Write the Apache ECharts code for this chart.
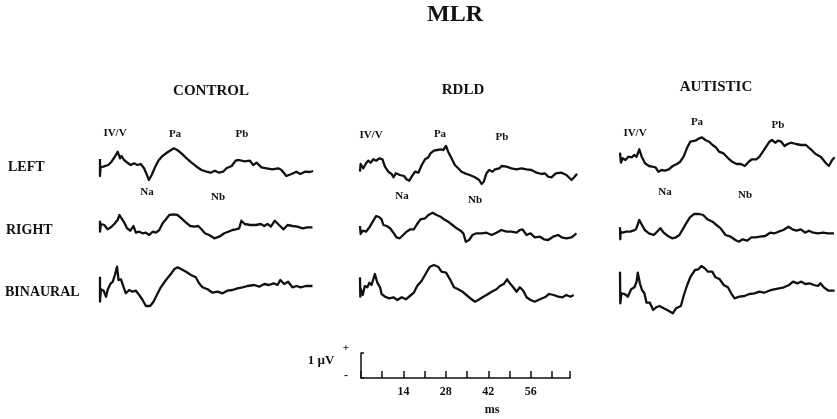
<!DOCTYPE html>
<html>
<head>
<meta charset="utf-8">
<title>MLR</title>
<script src="https://cdn.jsdelivr.net/npm/echarts@6/dist/echarts.min.js"></script>
<style>
  html, body { margin: 0; padding: 0; background: #fff; }
  #chart { width: 837px; height: 419px; }
</style>
</head>
<body>
<div id="chart"></div>
<script>
// groups, conditions and peak names
const groups = ['CONTROL', 'RDLD', 'AUTISTIC'];
const conditions = ['LEFT', 'RIGHT', 'BINAURAL'];
const peakNames = ['IV/V', 'Pa', 'Pb', 'Na', 'Nb'];

// scale bar ticks (ms)
const scaleTickLabels = [14, 28, 42, 56];

// waveforms: [ms, amplitude] (1 uV ~ 25 units)
const controlLeft = [[0,6],[0,-11],[0.2,-2],[1.1,-1.7],[2.7,0],[3.8,3.3],[4.9,8.3],[5.8,13.3],[6.6,6.7],[7.1,9],[7.9,5],[9,2.3],[10.1,0],[11.2,1.7],[12.3,0],[13.4,1],[14.5,-3.3],[15.3,-9],[16.1,-15],[17,-10],[18.1,-2.3],[19.2,4.3],[20.3,8.3],[21.7,11.7],[23,14.3],[24.3,16.7],[25.4,15],[26.8,11.7],[28.5,6.7],[30.1,2.3],[31.8,-1.7],[33.4,-5],[35,-6.7],[36.4,-7.7],[37.8,-5.7],[39.2,-7.7],[40.5,-6.7],[41.6,-3.3],[43.3,-1],[44.6,4.3],[45.7,5],[47.6,3.7],[49.3,4.3],[50.4,0],[51.5,2.3],[53.1,-2.3],[54.8,-3.3],[56.7,-4.3],[58.6,-3.3],[59.7,-5],[61.3,-11],[63,-9],[64.6,-6.7],[65.9,-9],[67.4,-6.7],[69,-7],[70.1,-6]];
const controlRight = [[0,7.3],[0,-3.7],[0.3,4],[1.4,3],[2.5,-1.3],[3.6,0.7],[4.7,4],[5.8,8],[6.4,13],[7.1,9.7],[8,5.3],[8.9,-0.3],[10,-2.7],[11,2],[11.8,-4.7],[12.9,-3.7],[14,-5.3],[15.1,-4.7],[16.2,-7],[17.3,-3.7],[18.4,-4.7],[19.5,-2],[20.6,4.7],[21.7,8.7],[22.8,13],[24.2,13.7],[25.5,13],[26.8,9.7],[28.3,5.3],[29.7,2],[31,1.3],[32.3,2],[33.4,-1.3],[34.5,-5.3],[35.9,-7],[37.6,-10.3],[39.2,-8.7],[40.9,-5.3],[42.2,-3.7],[43.6,-2],[44.7,-1.3],[45.8,-0.3],[46.5,7.3],[47.6,4],[49.4,3],[51.3,3],[52.9,4],[54,2],[55.1,4],[56.2,1.3],[57.5,7.3],[58.9,3],[60.4,-1.3],[61.7,3],[63.3,2],[65,1.3],[66.6,-0.3],[68.2,0.7],[69.9,0.7]];
const controlBinaural = [[0,13.3],[0,-11.7],[0.3,0.7],[1.2,-0.7],[2,-6.7],[2.5,0],[3.4,6],[4.2,8.3],[4.9,15],[5.6,23.3],[6.1,10],[6.9,10.7],[7.7,3.3],[8.5,-3.3],[9.6,0],[10.7,-1.7],[11.8,-0.7],[12.9,-5],[14,-10],[15.1,-16],[16.5,-16],[17.6,-11.7],[18.7,-5],[20,2.7],[21.7,10],[23.3,16],[24.4,20.7],[25.5,22.7],[26.8,20.7],[28.3,18.3],[29.9,15],[31.5,12.7],[32.6,6.7],[33.7,2.7],[35.4,0.7],[37,-2.7],[38.7,-1.7],[40.3,-3.3],[41.9,-0.7],[43.6,0],[45.2,1.7],[46.9,2.7],[48.5,4],[50.7,5],[52.4,3.3],[54,6],[55.6,5],[57.1,6.7],[58.4,5],[59.3,10],[60.6,6],[61.9,8.3],[63.3,2.7],[64.7,4],[66,2.7],[67.7,4],[69.9,4]];

const rdldLeft = [[0,-6.7],[0.2,1],[1.1,-3.3],[2,1.7],[2.7,4.3],[3.5,2.3],[4.4,5.7],[5.3,4.3],[6.4,6.7],[7.4,5.7],[8.2,-1.7],[9.3,-6.7],[10.4,-9],[11,-12.3],[11.8,-8.3],[13.1,-10],[14.5,-11],[15.3,-14.3],[16.2,-15.7],[17,-11.7],[18.1,-6.7],[19.2,-7.7],[20.3,0],[21.4,5.7],[22.5,7.7],[23.2,11.7],[24.3,14.3],[25.4,15],[26.5,15.7],[27.4,15],[28.3,19],[29,13.3],[30.1,6.7],[31.2,0],[32.3,-3.3],[33.4,-6.7],[34.5,-8.3],[36.1,-10],[37.8,-12.3],[39.2,-15],[40,-19],[40.7,-16.7],[41.6,-8.3],[42.5,-5],[43.6,-6.7],[44.4,-4.3],[45.8,-3.3],[46.6,-1],[48.2,-1.7],[49.8,-3.3],[51.5,-4.3],[53.1,-3.3],[54.8,-4.3],[56.4,-5],[58.1,-7.7],[59.7,-9],[60.8,-8.3],[61.9,-11.7],[63,-12.3],[64.4,-8.3],[66.3,-7.7],[67.9,-10],[69.6,-15],[70.6,-11.7],[71.4,-8.7]];
const rdldRight = [[0,2],[0.2,-6],[0.9,-2.7],[2,-3.7],[3.1,0.7],[4.2,6.3],[5.3,12],[6.4,10.7],[7.1,8.7],[7.7,3],[8.8,2],[9.9,-0.3],[11,-4.7],[12,-9.3],[13.1,-10.3],[14.2,-7],[15.3,-3.7],[16.6,-1.3],[17.7,-1.3],[18.8,4],[19.9,8.7],[21.4,9.7],[22.5,13],[23.9,15.3],[25.2,13],[26.5,11.3],[27.6,8.7],[29,6.3],[30.4,3],[31.8,-0.3],[33.1,-2.7],[34,-5.3],[34.8,-13.7],[35.9,-12],[37,-7],[38.3,-5.3],[40,-5.3],[41.6,-4.7],[43.3,-7],[44.9,-4.7],[46.5,-2],[48.2,-3.7],[49.8,-3.7],[51.5,-4.7],[52.6,-2],[53.4,-1.3],[54.8,-7],[56.1,-5.3],[57.5,-9.3],[59.2,-8.7],[60.5,-11.3],[61.9,-12],[63.5,-8.7],[65.2,-7],[66.3,-9.3],[67.9,-10.3],[69.6,-9.3],[71.2,-5.3]];
const rdldBinaural = [[0,12.7],[0.1,-6.7],[0.2,1.7],[0.9,-5],[1.6,4],[2.4,2.7],[3.1,7.3],[3.8,5],[4.9,16],[5.7,7.3],[6.6,2.7],[7.1,-4],[8.2,-6.7],[9.6,-8.3],[11,-7.3],[12.3,-10],[13.7,-7.3],[15.1,-9.3],[16.4,-6],[17.7,-2.7],[18.8,4],[20.3,9.3],[21.7,16.7],[23,23.3],[24.3,25],[25.7,23.3],[26.8,18.3],[28.3,17.3],[29.6,10.7],[30.9,2.7],[32.3,0.7],[33.7,-1.7],[35,-5],[36.7,-9.3],[37.8,-11.7],[38.9,-10],[40.3,-7.3],[41.6,-5],[43.3,-1.7],[44.9,0.7],[46,4],[47.3,6],[48.4,10.7],[49.3,6.7],[50.4,2.7],[51.5,-1.7],[52.6,2.7],[53.7,-0.7],[54.8,-7.3],[56.1,-10],[57.5,-11.7],[59.2,-9.3],[60.8,-7.3],[62.2,-4],[63.7,-5],[65.2,-6.7],[66.6,-7.3],[67.9,-5],[69.2,-6.7],[70.3,-5]];

const autisticLeft = [[0,7.3],[0.3,-2.7],[0.9,1.7],[1.8,0],[2.8,3.3],[3.9,2.7],[4.7,5],[5.5,3.3],[6.4,10.7],[7.2,3.3],[8.3,-3.3],[9.6,-6],[10.7,-6.7],[11.8,-7.3],[12.7,-11.7],[13.8,-10],[14.9,-10.7],[16.2,-9.3],[17.5,-6],[18.9,-4],[20,-1.7],[21.1,3.3],[22.2,11.7],[23.3,18.3],[25,19.3],[26.3,21.7],[27.2,22.7],[28.3,20],[29.6,18.3],[30.7,15],[31.8,12.7],[32.9,8.3],[34.3,6.7],[35.9,1.7],[37.2,-1.7],[38.7,-4],[40.1,-4],[41.4,-6],[42.7,-1.7],[43.8,0.7],[45.2,0.7],[46.3,3.3],[47.4,8.3],[48.5,13.3],[49.6,18.3],[50.4,20],[51.5,17.3],[52.4,19.3],[53.5,18.3],[54.6,14],[55.6,16],[56.7,17.3],[58.4,16],[60,15],[61.7,15],[63.3,10.7],[64.9,6],[66.6,3.3],[68.2,-2.7],[69.3,-6],[70.4,0],[71.2,2.7]];
const autisticRight = [[0,0.7],[0.1,-11.3],[0.2,-3.7],[0.9,-4.7],[2,-3.7],[3.3,-3.7],[4.4,-2.7],[5.3,-1.3],[6.4,8],[7.1,4],[8.2,-2],[9.6,-5.3],[11.2,-7],[12.3,-3.7],[13.4,-0.3],[14.5,-4.7],[15.9,-8],[17.3,-10.3],[18.6,-9.3],[19.7,-7],[21,-0.3],[22.1,5.3],[23.2,10.7],[24.6,14],[26.3,14],[27.6,13],[29,8.7],[30.7,6.3],[32,3],[33.4,-0.3],[35,-7],[36.7,-8.7],[38.3,-12],[39.4,-13.7],[40.7,-11.3],[42.2,-12.7],[43.6,-9.3],[44.9,-9.3],[46.5,-8.7],[48.2,-8],[49.8,-4.7],[51.3,-5.3],[52.6,-3.7],[54.2,-2],[55.9,1.3],[57.2,-1.3],[58.6,-2.7],[60,-1.3],[61.4,-4.7],[62.7,-2.7],[64.1,-4.7],[65.7,-5.3],[67.4,-4.7],[69,-5.3],[71,-5.3]];
const autisticBinaural = [[0,18.3],[0.1,-13.3],[0.5,-3.3],[1.5,-4],[2.6,-6.7],[3.7,0.7],[4.8,2.7],[5.5,8.3],[5.9,17.3],[6.6,6.7],[7.3,0],[8.1,-3.3],[8.8,-12.7],[9.9,-12.7],[11,-20],[12,-17.3],[13.1,-16],[14.5,-18.3],[16.1,-20.7],[17.5,-23.3],[18.6,-18.3],[20.2,-16],[21.2,-5],[22.3,5],[23.4,13.3],[24.9,20],[26,20.7],[27,24],[28.1,21.7],[29.2,18.3],[30.6,18.3],[31.7,12.7],[33.1,10.7],[34.4,5],[35.8,2.7],[36.9,-3.3],[38,-8.3],[39.6,-6.7],[41.3,-6],[42.9,-4],[44.6,-3.3],[46.2,-1.7],[47.8,-2.7],[49.5,-0.7],[51.1,0.7],[52.8,1.7],[54.4,2.7],[56.1,5],[57.4,8.3],[58.8,6.7],[60.2,8.3],[61.5,6],[62.9,6.7],[64.3,5],[65.7,4],[66.5,6.7],[67.6,2.7],[69.2,-0.7],[71.2,-0.7]];

const waves = [
  [controlLeft, controlRight, controlBinaural],
  [rdldLeft, rdldRight, rdldBinaural],
  [autisticLeft, autisticRight, autisticBinaural],
];

// ---- layout (pixels) ----
const FONT = '"Liberation Serif", "DejaVu Serif", serif';
const colLeft = [100, 360, 620];
const rowMid = [[165, 228, 290], [165, 228, 290], [160, 228, 290]];
const msPx = 3.04;
const xMax = 72;
const halfH = 30;
const titlePos = [[211, 91], [463, 90], [716, 87]];
const rowLabelPos = [[8, 167], [6, 230], [5, 292]];
// IV/V, Pa, Pb, Na, Nb
const peakPos = [
  [[115, 133], [175, 134], [242, 134], [147, 192], [218, 197]],
  [[371, 135], [440, 134], [502, 137], [402, 196], [475, 200]],
  [[635, 133], [697, 122], [778, 125], [665, 192], [745, 195]],
];

var chart = echarts.init(document.getElementById('chart'));

let grid = [], xAxis = [], yAxis = [], series = [];
waves.forEach(function (col, g) {
  col.forEach(function (data, r) {
    const i = grid.length;
    grid.push({ left: colLeft[g], top: rowMid[g][r] - halfH, width: xMax * msPx, height: halfH * 2 });
    xAxis.push({ gridIndex: i, type: 'value', min: 0, max: xMax, show: false });
    yAxis.push({ gridIndex: i, type: 'value', min: -halfH, max: halfH, show: false });
    series.push({
      name: groups[g] + ' ' + conditions[r],
      type: 'line',
      xAxisIndex: i,
      yAxisIndex: i,
      data: data,
      symbol: 'none',
      clip: false,
      lineStyle: { color: '#111', width: 2.3, join: 'round' },
    });
  });
});

// scale bar: 1 uV vertical, ms horizontal
const sIdx = grid.length;
grid.push({ left: 361, top: 353, width: 69 * 3.03, height: 25 });
xAxis.push({
  gridIndex: sIdx, type: 'value', min: 0, max: 69, interval: 7,
  axisLine: { show: true, lineStyle: { color: '#111', width: 1.5 } },
  axisTick: { show: true, inside: true, length: 7, lineStyle: { color: '#111', width: 1.5 } },
  splitLine: { show: false },
  axisLabel: {
    color: '#111', fontFamily: FONT, fontWeight: 'bold', fontSize: 12, margin: 8,
    formatter: function (v) { return scaleTickLabels.indexOf(v) >= 0 ? String(v) : ''; },
  },
});
yAxis.push({
  gridIndex: sIdx, type: 'value', min: 0, max: 1, interval: 1,
  axisLine: { show: true, lineStyle: { color: '#111', width: 1.5 } },
  axisTick: { show: true, inside: true, length: 3, lineStyle: { color: '#111', width: 1.5 } },
  axisLabel: { show: false },
  splitLine: { show: false },
});
series.push({ type: 'line', xAxisIndex: sIdx, yAxisIndex: sIdx, data: [], silent: true });

function txt(text, x, y, size, align) {
  return {
    type: 'text', x: x, y: y, silent: true,
    style: {
      text: text, fill: '#111', align: align || 'center', verticalAlign: 'middle',
      font: 'bold ' + size + 'px ' + FONT,
    },
  };
}

let graphic = [txt('MLR', 455, 15, 24)];
groups.forEach(function (name, g) {
  graphic.push(txt(name, titlePos[g][0], titlePos[g][1], 15));
  peakNames.forEach(function (p, k) {
    graphic.push(txt(p, peakPos[g][k][0], peakPos[g][k][1], 11));
  });
});
conditions.forEach(function (name, r) {
  graphic.push(txt(name, rowLabelPos[r][0], rowLabelPos[r][1], 14, 'left'));
});
graphic.push(txt('1 \u00b5V', 321, 361, 13));
graphic.push(txt('+', 346, 348, 11));
graphic.push(txt('-', 346, 376, 12));
graphic.push(txt('ms', 492, 410, 12));

chart.setOption({
  backgroundColor: '#fff',
  animation: false,
  grid: grid,
  xAxis: xAxis,
  yAxis: yAxis,
  series: series,
  graphic: graphic,
});
</script>
</body>
</html>
